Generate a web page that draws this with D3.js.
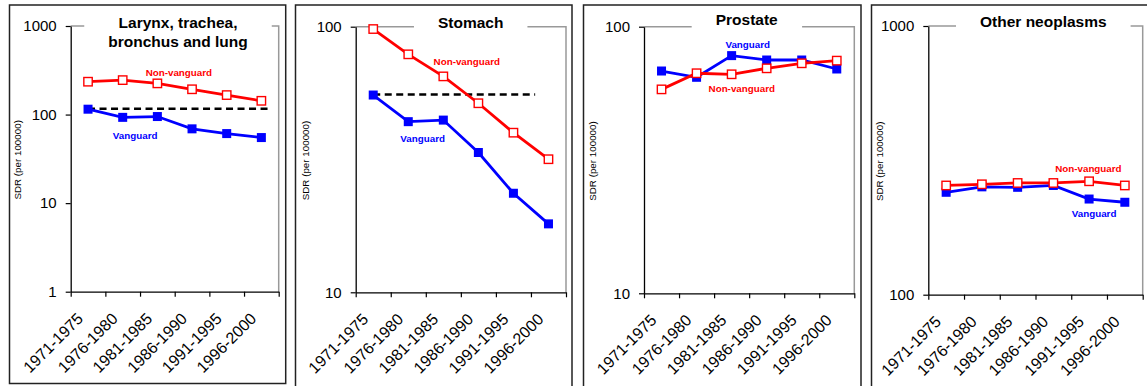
<!DOCTYPE html>
<html>
<head>
<meta charset="utf-8">
<script src="https://cdn.jsdelivr.net/npm/d3@7"></script>
<style>
  body { margin: 0; background: #fff; }
  svg { display: block; font-family: Arial, 'Liberation Sans', sans-serif; }
</style>
</head>
<body>
<svg id="chart" width="1147" height="386"></svg>
<script>
// periods on the x axis
const periods = ['1971-1975', '1976-1980', '1981-1985', '1986-1990', '1991-1995', '1996-2000'];

// panel titles (first one split on two lines)
const titles = [['Larynx, trachea,', 'bronchus and lung'], ['Stomach'], ['Prostate'], ['Other neoplasms']];

// SDR per 100000
const lungNonVanguard = [235, 245, 225, 193, 166, 143];
const lungVanguard = [115, 93, 95, 69, 61, 55];
const stomachNonVanguard = [98, 78.7, 65, 51.5, 39.9, 31.7];
const stomachVanguard = [55.3, 43.9, 44.5, 33.6, 23.6, 18.1];
const prostateNonVanguard = [58.2, 66.9, 66.3, 69.8, 72.9, 74.6];
const prostateVanguard = [68.2, 64.6, 77.9, 75, 75, 69.4];
const otherNonVanguard = [255, 257.6, 260.5, 260.5, 264.3, 255];
const otherVanguard = [240.5, 252, 251, 255, 227, 220.8];

// log axis ranges and their tick labels
const yDomains = [[1, 1000], [10, 100], [10, 100], [100, 1000]];
const yTicks = [[1, 10, 100, 1000], [10, 100], [10, 100], [100, 1000]];

// dashed reference level (value) and its span in period units
const refLevels = [116, 55.5, null, null];
const refSpans = [[0, 5.25], [0, 4.62], null, null];

// where the series labels sit: [period position, value]
const nonVanguardLabelAt = [[2.62, 297], [2.67, 73.8], [2.29, 58.4], [3.98, 295]];
const vanguardLabelAt = [[1.36, 58.6], [1.41, 38], [2.46, 85.4], [4.14, 201]];

const nonVanguard = [lungNonVanguard, stomachNonVanguard, prostateNonVanguard, otherNonVanguard];
const vanguard = [lungVanguard, stomachVanguard, prostateVanguard, otherVanguard];

// panel layout (box and plot area), in pixels
const panels = [
  { box: [9.5, 5, 285.7, 383.5], plot: [70.7, 26, 278.7, 291.7], yTitleX: 17, titleX: 178, titleY: 23 },
  { box: [295.5, 5, 572, 392], plot: [355.7, 26.7, 566, 292.3], yTitleX: 305, titleX: 470.7, titleY: 22.7 },
  { box: [583.5, 5, 861, 392], plot: [644, 26.7, 854.3, 293.3], yTitleX: 592, titleX: 746.7, titleY: 20 },
  { box: [871.5, 5, 1152, 392], plot: [928.3, 26, 1142.7, 294.7], yTitleX: 879, titleX: 1043.3, titleY: 21.7 },
];

const RED = '#ff0000';
const BLUE = '#0000ff';

const svg = d3.select('#chart');

panels.forEach(function (p, i) {
  const [bx0, by0, bx1, by1] = p.box;
  const [left, top, right, bottom] = p.plot;

  // outer frame
  svg.append('rect')
    .attr('x', bx0).attr('y', by0)
    .attr('width', bx1 - bx0).attr('height', by1 - by0)
    .attr('fill', 'none')
    .attr('stroke', '#222')
    .attr('stroke-width', 1.5);

  const x = d3.scaleLinear().domain([-0.5, 5.5]).range([left, right]);
  const y = d3.scaleLog().domain(yDomains[i]).range([bottom, top]);

  const g = svg.append('g');

  // top and right edges of the plot area (grey)
  g.append('path')
    .attr('d', 'M' + left + ',' + top + 'H' + right + 'V' + bottom)
    .attr('fill', 'none')
    .attr('stroke', '#999')
    .attr('stroke-width', 1.5);

  // title with white background that breaks the top edge
  const tg = g.append('g');
  const tt = tg.append('text')
    .attr('x', p.titleX)
    .attr('y', p.titleY)
    .attr('text-anchor', 'middle')
    .attr('font-weight', 'bold')
    .attr('font-size', '15.5px')
    .attr('fill', '#000');
  titles[i].forEach(function (line, k) {
    tt.append('tspan')
      .attr('x', p.titleX)
      .attr('dy', k === 0 ? '0.35em' : '1.2em')
      .text(line);
  });
  const bb = tt.node().getBBox();
  tg.insert('rect', 'text')
    .attr('x', bb.x - 24).attr('y', bb.y - 2)
    .attr('width', bb.width + 48).attr('height', bb.height + 4)
    .attr('fill', '#fff');

  // y axis
  const yAxis = g.append('g')
    .attr('transform', 'translate(' + left + ',0)')
    .call(d3.axisLeft(y).tickValues(yTicks[i]).tickFormat(d3.format('d')).tickSize(5).tickSizeOuter(0).tickPadding(9));
  yAxis.select('.domain').attr('stroke', '#000').attr('stroke-width', 1.3);
  yAxis.selectAll('.tick line').attr('stroke', '#000').attr('stroke-width', 1.2);
  yAxis.selectAll('.tick text')
    .attr('font-size', '15px')
    .attr('font-family', 'Arial, "Liberation Sans", sans-serif')
    .attr('fill', '#000');

  // x axis: ticks at period boundaries
  const xAxis = g.append('g')
    .attr('transform', 'translate(0,' + bottom + ')')
    .call(d3.axisBottom(x).tickValues(d3.range(-0.5, 6, 1)).tickFormat('').tickSize(5).tickSizeOuter(0));
  xAxis.select('.domain').attr('stroke', '#000').attr('stroke-width', 1.3);
  xAxis.selectAll('.tick line').attr('stroke', '#000').attr('stroke-width', 1.2);

  // rotated period labels
  g.selectAll('.period')
    .data(periods)
    .join('text')
    .attr('class', 'period')
    .attr('transform', function (d, k) {
      return 'translate(' + (x(k) - 4) + ',' + (bottom + 28) + ') rotate(-45)';
    })
    .attr('text-anchor', 'end')
    .attr('font-size', '16px')
    .attr('fill', '#000')
    .text(function (d) { return d; });

  // y axis title
  g.append('text')
    .attr('transform', 'translate(' + p.yTitleX + ',' + ((top + bottom) / 2 + 1) + ') rotate(-90)')
    .attr('text-anchor', 'middle')
    .attr('dominant-baseline', 'central')
    .attr('font-size', '9.8px')
    .attr('fill', '#000')
    .text('SDR (per 100000)');

  // dashed reference level
  if (refLevels[i] !== null) {
    g.append('line')
      .attr('x1', x(refSpans[i][0])).attr('x2', x(refSpans[i][1]))
      .attr('y1', y(refLevels[i])).attr('y2', y(refLevels[i]))
      .attr('stroke', '#000')
      .attr('stroke-width', 2.5)
      .attr('stroke-dasharray', '7,4.5');
  }

  const line = d3.line()
    .x(function (d, k) { return x(k); })
    .y(function (d) { return y(d); });

  // Vanguard series (filled blue squares)
  g.append('path')
    .datum(vanguard[i])
    .attr('d', line)
    .attr('fill', 'none')
    .attr('stroke', BLUE)
    .attr('stroke-width', 2.8);
  g.selectAll('.vsq')
    .data(vanguard[i])
    .join('rect')
    .attr('class', 'vsq')
    .attr('x', function (d, k) { return x(k) - 4.5; })
    .attr('y', function (d) { return y(d) - 4.5; })
    .attr('width', 9).attr('height', 9)
    .attr('fill', BLUE);

  // Non-vanguard series (hollow red squares)
  g.append('path')
    .datum(nonVanguard[i])
    .attr('d', line)
    .attr('fill', 'none')
    .attr('stroke', RED)
    .attr('stroke-width', 2.8);
  g.selectAll('.nsq')
    .data(nonVanguard[i])
    .join('rect')
    .attr('class', 'nsq')
    .attr('x', function (d, k) { return x(k) - 4.2; })
    .attr('y', function (d) { return y(d) - 4.2; })
    .attr('width', 8.4).attr('height', 8.4)
    .attr('fill', '#fff')
    .attr('stroke', RED)
    .attr('stroke-width', 1.4);

  // series labels
  g.append('text')
    .attr('x', x(nonVanguardLabelAt[i][0]))
    .attr('y', y(nonVanguardLabelAt[i][1]))
    .attr('text-anchor', 'middle')
    .attr('dominant-baseline', 'central')
    .attr('font-size', '9.8px')
    .attr('font-weight', 'bold')
    .attr('fill', RED)
    .text('Non-vanguard');
  g.append('text')
    .attr('x', x(vanguardLabelAt[i][0]))
    .attr('y', y(vanguardLabelAt[i][1]))
    .attr('text-anchor', 'middle')
    .attr('dominant-baseline', 'central')
    .attr('font-size', '9.8px')
    .attr('font-weight', 'bold')
    .attr('fill', BLUE)
    .text('Vanguard');
});
</script>
</body>
</html>
